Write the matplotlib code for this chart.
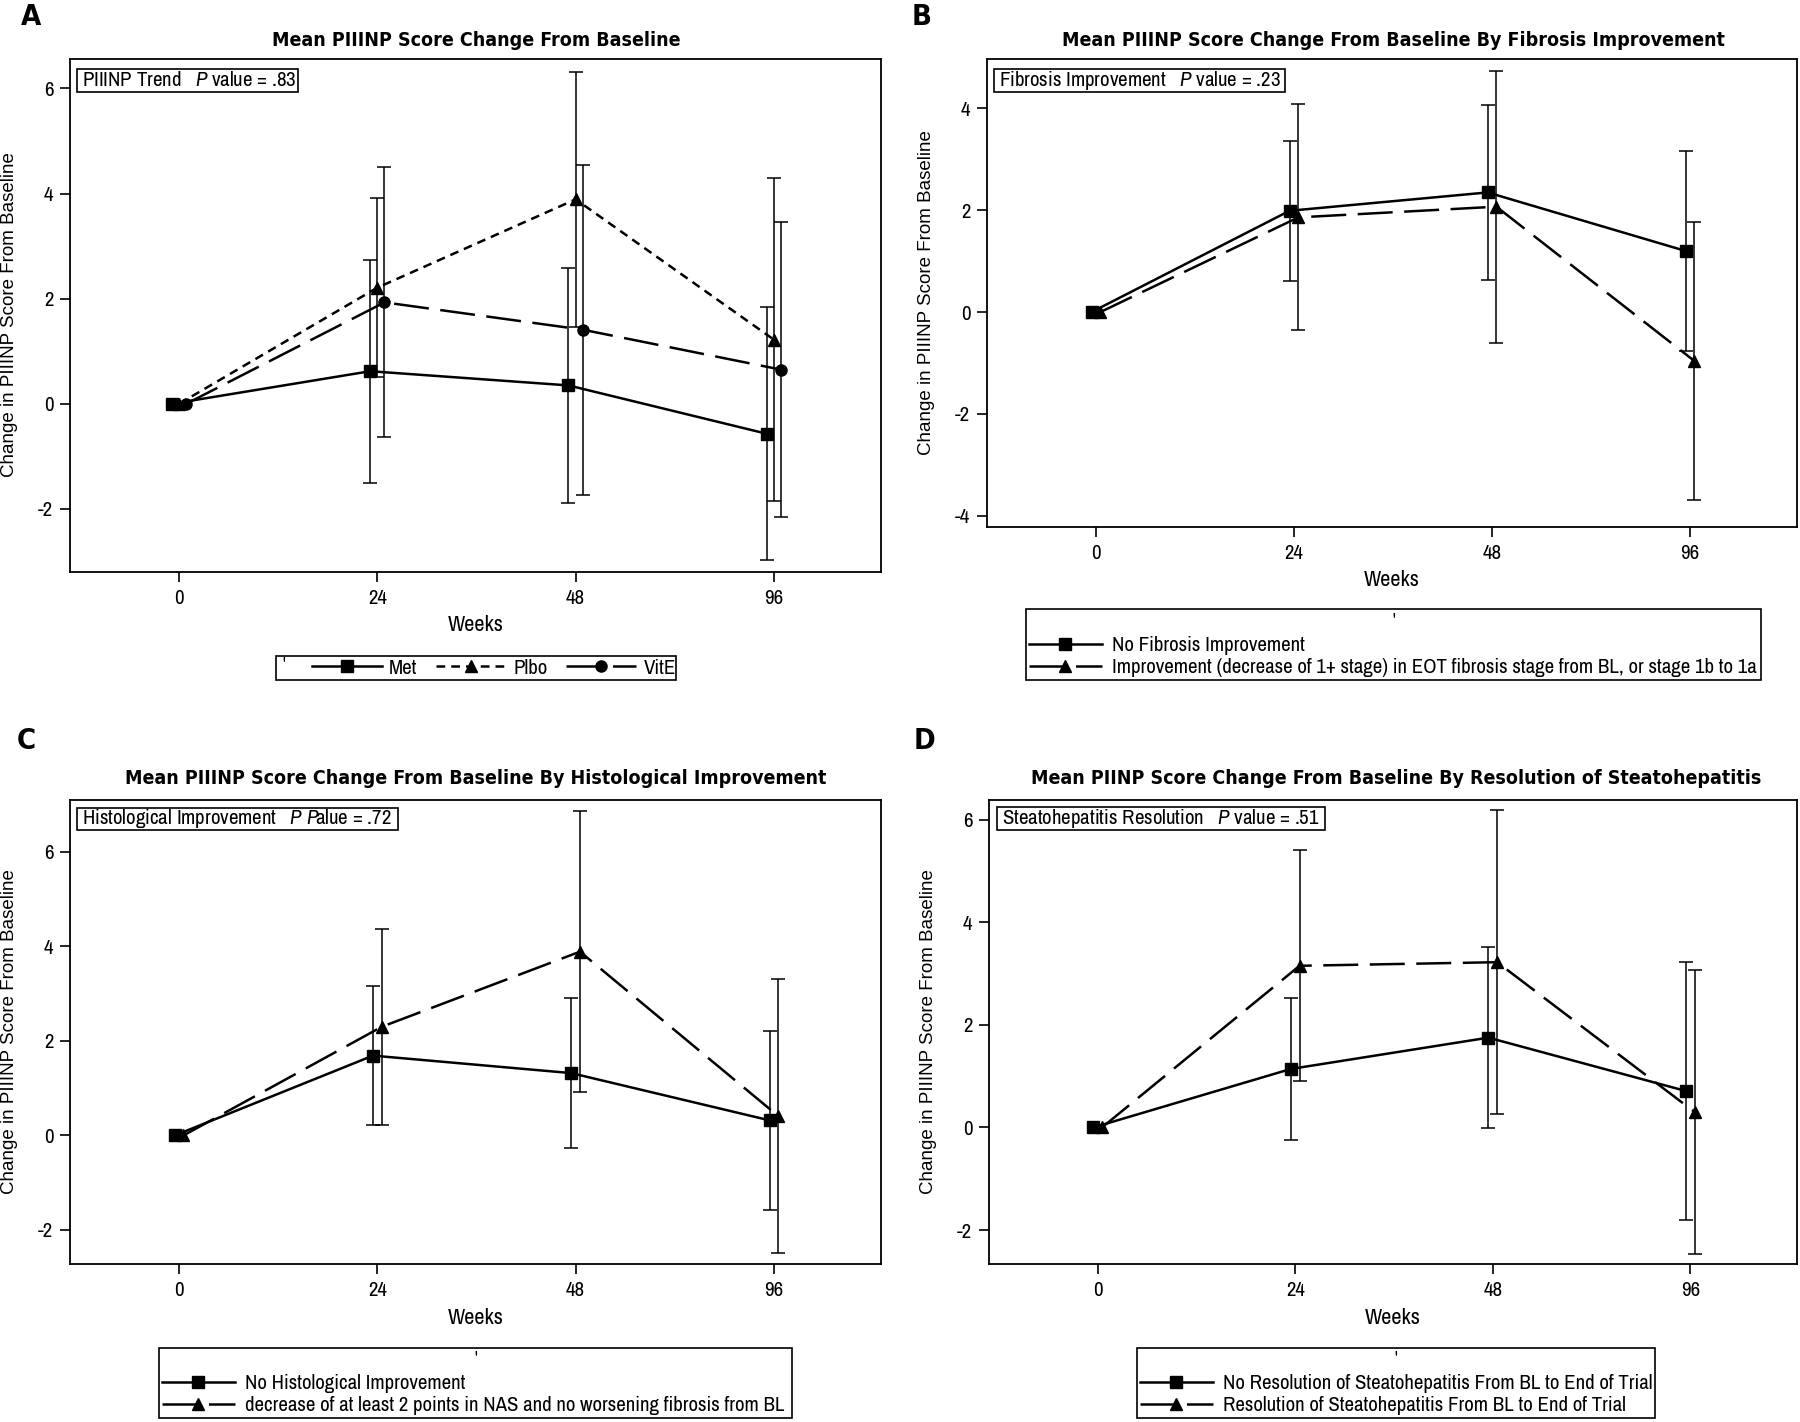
import matplotlib
matplotlib.use("Agg")
import matplotlib.pyplot as plt
from matplotlib.patches import Rectangle

W, H = 1800, 1422

NARROW = ["Archivo Narrow", "DejaVu Sans"]
REGULAR = ["Liberation Sans", "DejaVu Sans"]
BOLD_COND = dict(family=["DejaVu Sans"], stretch="condensed", weight="bold")

plt.rcParams["font.family"] = NARROW
plt.rcParams["axes.unicode_minus"] = False
plt.rcParams["mathtext.fontset"] = "custom"
plt.rcParams["mathtext.it"] = "Archivo Narrow:italic"
plt.rcParams["mathtext.rm"] = "Archivo Narrow"

weeks = ["0", "24", "48", "96"]

# panel A: treatment groups
met = [0, 0.62, 0.35, -0.57]
met_err = [0, 2.12, 2.24, 2.41]
plbo = [0, 2.21, 3.89, 1.22]
plbo_err = [0, 1.70, 2.43, 3.07]
vite = [0, 1.93, 1.41, 0.65]
vite_err = [0, 2.57, 3.14, 2.80]

# panel B: fibrosis improvement
no_fib = [0, 1.99, 2.35, 1.20]
no_fib_err = [0, 1.37, 1.71, 1.96]
fib_imp = [0, 1.86, 2.07, -0.96]
fib_imp_err = [0, 2.22, 2.67, 2.73]

# panel C: histological improvement
no_hist = [0, 1.69, 1.32, 0.32]
no_hist_err = [0, 1.47, 1.59, 1.90]
hist_imp = [0, 2.30, 3.89, 0.41]
hist_imp_err = [0, 2.07, 2.98, 2.90]

# panel D: resolution of steatohepatitis
no_res = [0, 1.14, 1.75, 0.71]
no_res_err = [0, 1.39, 1.76, 2.51]
res = [0, 3.15, 3.22, 0.30]
res_err = [0, 2.25, 2.96, 2.77]

SOLID = "-"
DOTTED = (0, (3.5, 2.4))
LONGDASH = (0, (14, 4.6))


def fx(x):
    return x / W


def fy(y):
    return 1 - y / H


def make_axes(fig, left, right, top, bottom):
    return fig.add_axes([fx(left), fy(bottom), (right - left) / W, (bottom - top) / H])


def draw_series(ax, offset, y, err, ls, marker, label):
    x = [i + offset for i in range(len(weeks))]
    ax.errorbar(x[1:], y[1:], yerr=err[1:], fmt="none", ecolor="black",
                elinewidth=1.1, capsize=5, capthick=1.1, zorder=2)
    ax.plot(x, y, color="black", lw=1.8, ls=ls, marker=marker, ms=8,
            mfc="black", mec="black", label=label, zorder=3)


def style_axes(ax, ylim, yticks):
    ax.set_xlim(-0.55, 3.54)
    ax.set_ylim(*ylim)
    ax.set_xticks(range(len(weeks)))
    ax.set_xticklabels(weeks)
    ax.set_yticks(yticks)
    ax.tick_params(direction="out", length=7, width=1.2, labelsize=15, pad=5)
    for s in ax.spines.values():
        s.set_linewidth(1.3)


def box(fig, x0, x1, y0, y1):
    fig.add_artist(Rectangle((fx(x0), fy(y1)), (x1 - x0) / W, (y1 - y0) / H,
                             transform=fig.transFigure, fill=True, facecolor="white",
                             edgecolor="black", lw=1.2, zorder=5))


def annotate(fig, x0, x1, y0, y1, text):
    box(fig, x0, x1, y0, y1)
    fig.text(fx(x0 + 5), fy((y0 + y1) / 2), text, fontsize=15, va="center",
             ha="left", zorder=6)


fig = plt.figure(figsize=(W / 100, H / 100), dpi=100)

# ---------------- A ----------------
axA = make_axes(fig, 70, 881, 59, 572)
draw_series(axA, -0.036, met, met_err, SOLID, "s", "Met")
draw_series(axA, 0.0, plbo, plbo_err, DOTTED, "^", "Plbo")
draw_series(axA, 0.036, vite, vite_err, LONGDASH, "o", "VitE")
style_axes(axA, (-3.2, 6.56), [-2, 0, 2, 4, 6])
annotate(fig, 77, 298, 69, 92, "PIIINP Trend   $P$ value = .83")

# ---------------- B ----------------
axB = make_axes(fig, 987, 1797, 59, 527)
draw_series(axB, -0.022, no_fib, no_fib_err, SOLID, "s", "No Fibrosis Improvement")
draw_series(axB, 0.022, fib_imp, fib_imp_err, LONGDASH, "^",
            "Improvement (decrease of 1+ stage) in EOT fibrosis stage from BL, or stage 1b to 1a")
style_axes(axB, (-4.22, 4.97), [-4, -2, 0, 2, 4])
annotate(fig, 994, 1285, 69, 92, "Fibrosis Improvement   $P$ value = .23")

# ---------------- C ----------------
axC = make_axes(fig, 70, 881, 800, 1264)
draw_series(axC, -0.022, no_hist, no_hist_err, SOLID, "s", "No Histological Improvement")
draw_series(axC, 0.022, hist_imp, hist_imp_err, LONGDASH, "^",
            "decrease of at least 2 points in NAS and no worsening fibrosis from BL")
style_axes(axC, (-2.72, 7.1), [-2, 0, 2, 4, 6])
annotate(fig, 77, 398, 808, 830, "Histological Improvement   $P$ $P\\!$alue = .72")

# ---------------- D ----------------
axD = make_axes(fig, 989, 1797, 800, 1264)
draw_series(axD, -0.022, no_res, no_res_err, SOLID, "s",
            "No Resolution of Steatohepatitis From BL to End of Trial")
draw_series(axD, 0.022, res, res_err, LONGDASH, "^",
            "Resolution of Steatohepatitis From BL to End of Trial")
style_axes(axD, (-2.66, 6.38), [-2, 0, 2, 4, 6])
annotate(fig, 997, 1325, 807, 830, "Steatohepatitis Resolution   $P$ value = .51")

# titles, panel letters, axis labels
titles = [
    (476, 40, "Mean PIIINP Score Change From Baseline"),
    (1393, 40, "Mean PIIINP Score Change From Baseline By Fibrosis Improvement"),
    (476, 778, "Mean PIIINP Score Change From Baseline By Histological Improvement"),
    (1396, 778, "Mean PIINP Score Change From Baseline By Resolution of Steatohepatitis"),
]
for x, y, t in titles:
    fig.text(fx(x), fy(y), t, fontsize=14, ha="center", va="center", **BOLD_COND)

for x, y, t in [(31, 17, "A"), (922, 17, "B"), (26, 741, "C"), (924, 741, "D")]:
    fig.text(fx(x), fy(y), t, fontsize=21, ha="center", va="center", **BOLD_COND)

ylab = "Change in PIIINP Score From Baseline"
for x, y in [(10, 315), (926, 293), (10, 1032), (929, 1032)]:
    fig.text(fx(x), fy(y), ylab, rotation=90, fontsize=13.5, family=REGULAR,
             ha="center", va="center")

for x, y in [(476, 625), (1392, 580), (476, 1318), (1393, 1318)]:
    fig.text(fx(x), fy(y), "Weeks", fontsize=16, ha="center", va="center")

# legends (figure-level so they sit above the frame boxes)
box(fig, 276, 676, 656, 680)
fig.text(fx(284), fy(664), "'", fontsize=12, ha="center", va="center", zorder=6)
h, l = axA.get_legend_handles_labels()
legA = fig.legend(h, l, loc="center left", bbox_to_anchor=(fx(312), fy(668)),
                  ncol=3, frameon=False, fontsize=15, handlelength=3.35,
                  handletextpad=0.35, columnspacing=0.9, borderpad=0, borderaxespad=0)
legA.set_zorder(7)

for ax, (x0, x1, y0, y1) in [(axB, (1026, 1761, 609, 680)),
                             (axC, (159, 792, 1348, 1418)),
                             (axD, (1137, 1655, 1348, 1418))]:
    box(fig, x0, x1, y0, y1)
    fig.text(fx((x0 + x1) / 2), fy(y0 + 10), "'", fontsize=12, ha="center",
             va="center", zorder=6)
    h, l = ax.get_legend_handles_labels()
    leg = fig.legend(h, l, loc="lower left", bbox_to_anchor=(fx(x0 + 3), fy(y1 - 3)),
                     frameon=False, fontsize=15, handlelength=3.5, handletextpad=0.5,
                     labelspacing=0.15, borderpad=0, borderaxespad=0)
    leg.set_zorder(7)

fig.savefig("out.png", dpi=100)
